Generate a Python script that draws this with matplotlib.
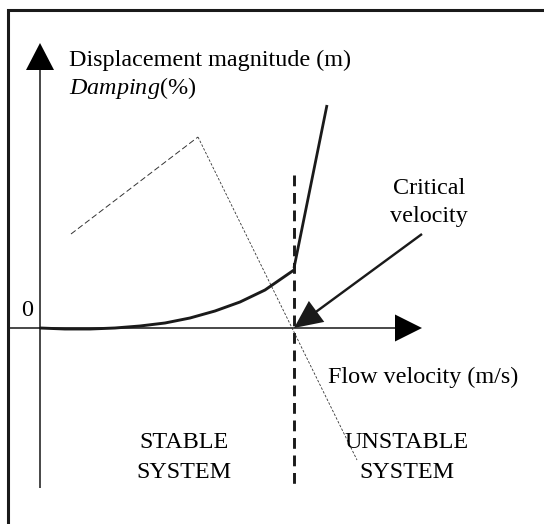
import matplotlib
matplotlib.use("Agg")
import matplotlib.pyplot as plt

plt.rcParams['font.family'] = ['Liberation Serif', 'DejaVu Serif']
plt.rcParams['mathtext.fontset'] = 'custom'
plt.rcParams['mathtext.rm'] = 'Liberation Serif'
plt.rcParams['mathtext.it'] = 'Liberation Serif:italic'

# schematic units (origin at the axes crossing)
v_crit = 254
disp_v = [0, 25, 50, 75, 100, 125, 150, 175, 200, 225, 254]
disp_y = [0, -1, -1, 0, 2, 5, 10, 17, 26, 38, 58]
unstable_v = [254, 287]
unstable_y = [60, 223]
damp_rise_v = [31, 158]
damp_rise_y = [94, 191]
damp_fall_v = [158, 317]
damp_fall_y = [191, -132]

fs = 17.4
fig = plt.figure(figsize=(5.44, 5.24), dpi=100)
ax = fig.add_axes([0, 0, 1, 1])
ax.set_xlim(-40, 504)
ax.set_ylim(-196, 328)
ax.set_aspect('equal')
ax.axis('off')

# frame (cropped: only left and top visible)
ax.plot([-32.5, -32.5, 510], [-200, 318, 318], color='#1a1a1a', lw=2.2,
        solid_joinstyle='miter', clip_on=False)

# axes with arrow heads
ax.arrow(0, -160, 0, 445, width=1.4, head_width=28, head_length=27,
         length_includes_head=True, color='black', lw=0)
ax.arrow(-32, 0, 414, 0, width=1.4, head_width=27, head_length=27,
         length_includes_head=True, color='black', lw=0)

# critical velocity divider
ax.plot([v_crit, v_crit], [153, -160], color='#1a1a1a', lw=2.1,
        dashes=(3.7, 2.3))

# damping (thin dashed)
ax.plot(damp_rise_v, damp_rise_y, color='#333333', lw=0.7, dashes=(6, 3))
ax.plot(damp_fall_v, damp_fall_y, color='#333333', lw=0.6, dashes=(3, 2))

# displacement magnitude
ax.plot(disp_v, disp_y, color='#1a1a1a', lw=2.1, solid_capstyle='butt')
ax.plot(unstable_v, unstable_y, color='#1a1a1a', lw=2.0, solid_capstyle='butt')

# critical velocity pointer
ax.arrow(382, 94, -128, -94, width=2.4, head_width=26, head_length=28,
         length_includes_head=True, color='#1a1a1a', lw=0)

ax.text(29, 262, "Displacement magnitude (m)", fontsize=fs, va='baseline')
ax.text(29, 234, r"$\mathit{Damping}$(%)", fontsize=fs, va='baseline')
ax.text(-13, 18, "0", fontsize=fs, ha='center', va='center')
ax.text(389, 134, "Critical", fontsize=fs, ha='center', va='baseline')
ax.text(389, 106, "velocity", fontsize=fs, ha='center', va='baseline')
ax.text(288, -55, "Flow velocity (m/s)", fontsize=fs, va='baseline')
ax.text(144, -120, "STABLE", fontsize=fs, ha='center', va='baseline')
ax.text(144, -150, "SYSTEM", fontsize=fs, ha='center', va='baseline')
ax.text(367, -120, "UNSTABLE", fontsize=fs, ha='center', va='baseline')
ax.text(367, -150, "SYSTEM", fontsize=fs, ha='center', va='baseline')

fig.savefig("out.png", dpi=100)
